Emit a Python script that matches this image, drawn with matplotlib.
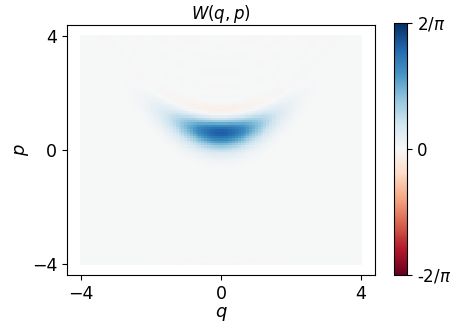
import numpy as np
import matplotlib
matplotlib.use('Agg')
import matplotlib.pyplot as plt

# Parámetros del estado (fase cúbica sobre estado squeezed, hbar = 1/2)
SIGMA_Q = 0.9       # ancho en q
P0 = 0.5            # desplazamiento en p
GAMMA = 0.075       # coef. cúbico -> p = P0 + 3*GAMMA*q^2
RUIDO_P = 0.17      # ruido gaussiano en p (estado mixto)
N_GRID = 100
LIM = 4.0

q_vals = np.linspace(-LIM, LIM, N_GRID)
p_vals = np.linspace(-LIM, LIM, N_GRID)
ticks = [-4, 0, 4]
cbar_ticks = [-2 / np.pi, 0, 2 / np.pi]
cbar_labels = ['-2/$\\pi$', '0', '2/$\\pi$']


def psi(x):
    amp = np.exp(-x**2 / (4 * SIGMA_Q**2))
    fase = 2 * (P0 * x + GAMMA * x**3)
    return amp * np.exp(1j * fase)


# normalización
xs = np.linspace(-12, 12, 4001)
norm = np.trapezoid(np.abs(psi(xs))**2, xs)

# W(q,p) = (2/pi) * int psi*(q+y) psi(q-y) exp(4ipy) dy
y = np.linspace(-6, 6, 801)
dy = y[1] - y[0]
Q, Y = np.meshgrid(q_vals, y, indexing='ij')
corr = np.conj(psi(Q + Y)) * psi(Q - Y) / norm
corr = corr * np.exp(-8 * RUIDO_P**2 * Y**2)
kern = np.exp(4j * np.outer(y, p_vals))
W = (2 / np.pi) * np.real(corr @ kern) * dy   # forma (q, p)

fig = plt.figure(figsize=(4.5, 3.28), dpi=100)
ax = fig.add_axes([0.149, 0.162, 0.684, 0.762])
im = ax.pcolormesh(q_vals, p_vals, W.T, cmap='RdBu',
                   vmin=-2 / np.pi, vmax=2 / np.pi, shading='auto')
ax.set_xlim(-4.4, 4.4)
ax.set_ylim(-4.4, 4.4)
ax.set_xticks(ticks)
ax.set_yticks(ticks)
ax.tick_params(labelsize=12.5)
ax.set_xlabel('$q$', fontsize=13, labelpad=2)
ax.set_ylabel('$p$', fontsize=13, labelpad=1)
ax.set_title('$W(q, p)$', fontsize=12, pad=3)

cax = fig.add_axes([0.876, 0.162, 0.028, 0.768])
cb = fig.colorbar(im, cax=cax, ticks=cbar_ticks)
cb.ax.set_yticklabels(cbar_labels)
cb.ax.tick_params(labelsize=12)

fig.savefig('out.png', dpi=100)
